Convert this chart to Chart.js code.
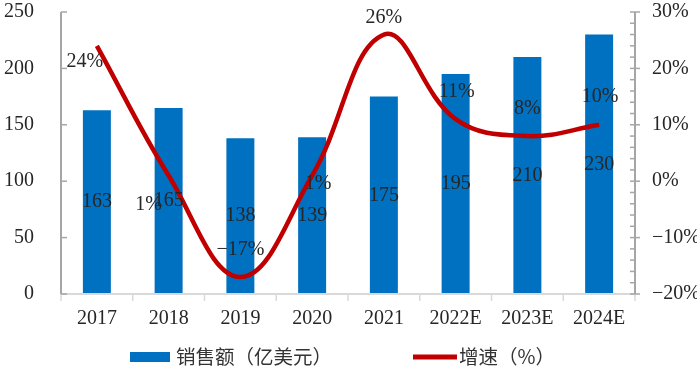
<!DOCTYPE html>
<html><head><meta charset="utf-8">
<script src="https://cdn.jsdelivr.net/npm/chart.js@4.4.1/dist/chart.umd.min.js"></script>
<style>html,body{margin:0;padding:0;background:#fff;}#wrap{width:697px;height:385px;position:relative;}</style>
</head><body><div id="wrap"><canvas id="c" width="697" height="385"></canvas></div>
<script>
// ---- data ----
const categories = ['2017', '2018', '2019', '2020', '2021', '2022E', '2023E', '2024E'];
const salesValues = [163, 165, 138, 139, 175, 195, 210, 230];
const growthValues = [24, 1, -17, 1, 26, 11, 8, 10];
const leftTickValues = [0, 50, 100, 150, 200, 250];
const rightTickValues = [-20, -10, 0, 10, 20, 30];
const seriesNames = ['销售额（亿美元）', '增速（%）'];

// ---- style ----
const BLUE = '#0070c0', RED = '#c00000';
const SERIF = "'Liberation Serif','Times New Roman',serif";
const CJK = "'Noto Sans CJK SC','Noto Sans',sans-serif";
const TXT = '#262626';
const FS = 20;
// line label offsets (px) relative to the point
const lineLabelOffsets = [[-12, 16], [-20, 29], [0, -27], [6, 8], [0, -17], [1, -27], [0, -27], [1, -28]];
const fmtPct = v => (v < 0 ? '\u2212' + Math.abs(v) : v) + '%';

const decor = {
  id: 'decor',
  afterDraw(chart) {
    const ctx = chart.ctx, a = chart.chartArea;
    const x = chart.scales.x, y = chart.scales.y, y1 = chart.scales.y1;
    ctx.save();
    // x axis line
    ctx.strokeStyle = '#d9d9d9'; ctx.lineWidth = 2;
    ctx.beginPath(); ctx.moveTo(a.left, a.bottom); ctx.lineTo(a.right, a.bottom); ctx.stroke();
    // x ticks between categories
    ctx.lineWidth = 1.5;
    const step = x.getPixelForValue(1) - x.getPixelForValue(0);
    for (let i = 0; i <= categories.length; i++) {
      const px = x.getPixelForValue(0) - step / 2 + i * step;
      ctx.beginPath(); ctx.moveTo(px, a.bottom); ctx.lineTo(px, a.bottom + 7); ctx.stroke();
    }
    // left axis
    ctx.strokeStyle = '#a6a6a6'; ctx.lineWidth = 2;
    ctx.beginPath(); ctx.moveTo(a.left, a.top); ctx.lineTo(a.left, a.bottom); ctx.stroke();
    ctx.lineWidth = 1.5;
    leftTickValues.forEach(v => {
      const py = y.getPixelForValue(v);
      ctx.beginPath(); ctx.moveTo(a.left, py); ctx.lineTo(a.left + 6, py); ctx.stroke();
    });
    // right axis
    ctx.lineWidth = 2;
    ctx.beginPath(); ctx.moveTo(a.right, a.top); ctx.lineTo(a.right, a.bottom); ctx.stroke();
    ctx.lineWidth = 1.5;
    y1.ticks.forEach(t => {
      const py = y1.getPixelForValue(t.value);
      const major = t.value % 10 === 0;
      ctx.beginPath(); ctx.moveTo(a.right - 5, py); ctx.lineTo(a.right + (major ? 5 : 0), py); ctx.stroke();
    });
    // data labels
    ctx.font = FS + 'px ' + SERIF; ctx.fillStyle = TXT;
    ctx.textAlign = 'center'; ctx.textBaseline = 'middle';
    const barMeta = chart.getDatasetMeta(0), lineMeta = chart.getDatasetMeta(1);
    barMeta.data.forEach((el, i) => {
      ctx.fillText(String(salesValues[i]), el.x, (el.y + el.base) / 2);
    });
    lineMeta.data.forEach((el, i) => {
      const o = lineLabelOffsets[i];
      ctx.fillText(fmtPct(growthValues[i]), el.x + o[0], el.y + o[1]);
    });
    // legend
    const ly = 357;
    ctx.fillStyle = BLUE; ctx.fillRect(130, ly - 5, 40, 10);
    ctx.strokeStyle = RED; ctx.lineWidth = 5;
    ctx.beginPath(); ctx.moveTo(413, ly); ctx.lineTo(457, ly); ctx.stroke();
    ctx.font = '19.5px ' + CJK; ctx.fillStyle = '#333'; ctx.textAlign = 'left';
    ctx.fillText(seriesNames[0], 176, ly);
    ctx.fillText(seriesNames[1], 459, ly);
    ctx.restore();
  }
};

new Chart(document.getElementById('c'), {
  data: {
    labels: categories,
    datasets: [
      { type: 'bar', label: seriesNames[0], data: salesValues, backgroundColor: BLUE, yAxisID: 'y',
        categoryPercentage: 1, barPercentage: 0.39, order: 2 },
      { type: 'line', label: seriesNames[1], data: growthValues, borderColor: RED, borderWidth: 4.5,
        pointRadius: 0, tension: 0.4, yAxisID: 'y1', order: 1, fill: false }
    ]
  },
  options: {
    responsive: false, animation: false, devicePixelRatio: 1,
    layout: { padding: { top: 12, left: 0, right: 0, bottom: 0 } },
    plugins: { legend: { display: false }, tooltip: { enabled: false } },
    scales: {
      x: {
        grid: { display: false, drawTicks: true, tickLength: 13 }, border: { display: false },
        ticks: { font: { family: SERIF, size: FS }, color: TXT, padding: 0, maxRotation: 0 },
        afterFit(s) { s.height = 91; }
      },
      y: {
        position: 'left', min: 0, max: 250,
        grid: { display: false, drawTicks: true, tickLength: 27 }, border: { display: false },
        ticks: { stepSize: 50, font: { family: SERIF, size: FS }, color: TXT, padding: 0 },
        afterFit(s) { s.width = 61; }
      },
      y1: {
        position: 'right', min: -20, max: 30,
        grid: { display: false, drawTicks: true, tickLength: 17 }, border: { display: false },
        ticks: { stepSize: 2, autoSkip: false, font: { family: SERIF, size: FS }, color: TXT, padding: 0,
          callback: v => (rightTickValues.includes(v) ? fmtPct(v) : '') },
        afterFit(s) { s.width = 62; }
      }
    }
  },
  plugins: [decor]
});
</script></body></html>
